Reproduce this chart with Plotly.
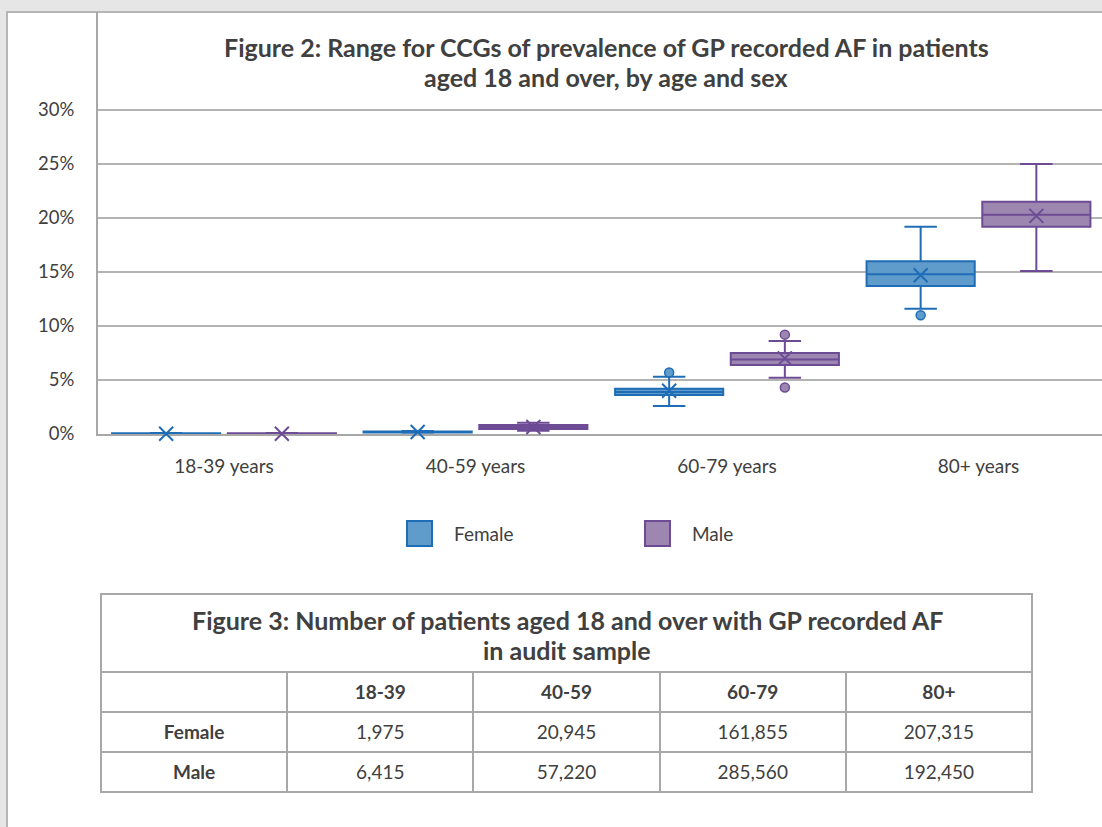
import plotly.graph_objects as go

W, H = 1102, 827
H_EFF = 817  # effective rendered height used to map pixel targets to paper coords

# ---------------- data ----------------
age_groups = ["18-39 years", "40-59 years", "60-79 years", "80+ years"]

# Female box statistics (fractions)
f_lower = [0.0000, 0.0012, 0.026, 0.116]
f_q1 = [0.0000, 0.0015, 0.036, 0.137]
f_median = [0.0003, 0.0019, 0.039, 0.148]
f_q3 = [0.0006, 0.0023, 0.042, 0.160]
f_upper = [0.0010, 0.0028, 0.053, 0.192]
f_mean = [0.0003, 0.0019, 0.040, 0.147]
f_outliers_x = ["60-79 years", "80+ years"]
f_outliers_y = [0.057, 0.110]

# Male box statistics (fractions)
m_lower = [0.0000, 0.0030, 0.052, 0.151]
m_q1 = [0.0000, 0.0046, 0.064, 0.192]
m_median = [0.0003, 0.0065, 0.069, 0.203]
m_q3 = [0.0006, 0.0083, 0.075, 0.215]
m_upper = [0.0010, 0.0105, 0.086, 0.250]
m_mean = [0.0003, 0.0065, 0.070, 0.202]
m_outliers_x = ["60-79 years", "60-79 years"]
m_outliers_y = [0.092, 0.043]

y_ticks = [0, 0.05, 0.10, 0.15, 0.20, 0.25, 0.30]

# Table data
table_cols = ["18-39", "40-59", "60-79", "80+"]
table_rows = ["Female", "Male"]
female_counts = [1975, 20945, 161855, 207315]
male_counts = [6415, 57220, 285560, 192450]

chart_title = ["Figure 2: Range for CCGs of prevalence of GP recorded AF in patients",
               "aged 18 and over, by age and sex"]
table_title = ["Figure 3: Number of patients aged 18 and over with GP recorded AF",
               "in audit sample"]

# ---------------- styling ----------------
FONT = "Lato"
TXT = "#404040"
GRID = "#b3b3b3"
BORDER = "#a8a8a8"
F_FILL, F_LINE = "#5f9bcb", "#1f6db6"
M_FILL, M_LINE = "#9d87b1", "#6d4b95"

def px_x(p):
    return p / W

def px_y(p):
    return 1 - p / H_EFF

idx = {g: i for i, g in enumerate(age_groups)}
OFF = 0.23
BW = 0.43

fig = go.Figure()

def add_series(name, lower, q1, med, q3, upper, mean, ox, oy, sign, fill, line):
    xs = [i + sign * OFF for i in range(len(age_groups))]
    fig.add_trace(go.Box(
        x=xs, q1=q1, median=med, q3=q3, lowerfence=lower, upperfence=upper,
        width=BW, whiskerwidth=0.3, fillcolor=fill,
        line=dict(color=line, width=2), name=name, showlegend=False,
        boxpoints=False, hoverinfo="skip"))
    fig.add_trace(go.Scatter(
        x=xs, y=mean, mode="markers", showlegend=False, hoverinfo="skip",
        cliponaxis=False,
        marker=dict(symbol="x-thin", size=14, line=dict(color=line, width=2))))
    fig.add_trace(go.Scatter(
        x=[idx[g] + sign * OFF for g in ox], y=oy, mode="markers",
        showlegend=False, hoverinfo="skip", cliponaxis=False,
        marker=dict(symbol="circle", size=9, color=fill,
                    line=dict(color=line, width=1.5))))

add_series("Female", f_lower, f_q1, f_median, f_q3, f_upper, f_mean,
           f_outliers_x, f_outliers_y, -1, F_FILL, F_LINE)
add_series("Male", m_lower, m_q1, m_median, m_q3, m_upper, m_mean,
           m_outliers_x, m_outliers_y, 1, M_FILL, M_LINE)

# Table
fig.add_trace(go.Table(
    domain=dict(x=[px_x(101), px_x(1032)], y=[px_y(800), px_y(672)]),
    columnwidth=[1] * 5,
    header=dict(values=["<span> </span>"] + ["<b>%s</b>" % c for c in table_cols],
                height=40, fill_color="white",
                line=dict(color=BORDER, width=2),
                font=dict(family=FONT, size=19, color=TXT), align="center"),
    cells=dict(values=[["<b>%s</b>" % r for r in table_rows]] +
               [["<span>{:,}</span>".format(f), "<span>{:,}</span>".format(m)]
                for f, m in zip(female_counts, male_counts)],
               height=40, fill_color="white",
               line=dict(color=BORDER, width=2),
               font=dict(family=FONT, size=19, color=TXT), align="center"),
))

shapes = [
    # white panel
    dict(type="rect", xref="paper", yref="paper", layer="below",
         x0=px_x(7), x1=px_x(1120), y0=px_y(840), y1=px_y(12),
         fillcolor="white", line=dict(color="#b5b5b5", width=2)),
    # table title box
    dict(type="rect", xref="paper", yref="paper",
         x0=px_x(101), x1=px_x(1032), y0=px_y(672), y1=px_y(594),
         fillcolor="rgba(0,0,0,0)", line=dict(color=BORDER, width=2)),
    # legend squares
    dict(type="rect", xref="paper", yref="paper",
         x0=px_x(407), x1=px_x(432), y0=px_y(546), y1=px_y(521),
         fillcolor=F_FILL, line=dict(color=F_LINE, width=2)),
    dict(type="rect", xref="paper", yref="paper",
         x0=px_x(645), x1=px_x(670), y0=px_y(546), y1=px_y(521),
         fillcolor=M_FILL, line=dict(color=M_LINE, width=2)),
]

annotations = []
for txt, yy in zip(chart_title, [47, 77]):
    annotations.append(dict(
        xref="paper", yref="paper", x=px_x(606), y=px_y(yy),
        text="<b>%s</b>" % txt, showarrow=False,
        font=dict(family=FONT, size=25, color=TXT),
        xanchor="center", yanchor="middle"))
for txt, yy in zip(table_title, [620, 650]):
    annotations.append(dict(
        xref="paper", yref="paper", x=px_x(567), y=px_y(yy),
        text="<b>%s</b>" % txt, showarrow=False,
        font=dict(family=FONT, size=25, color=TXT),
        xanchor="center", yanchor="middle"))
for txt, xx in zip(["Female", "Male"], [452, 690]):
    annotations.append(dict(
        xref="paper", yref="paper", x=px_x(xx), y=px_y(533), text=txt,
        showarrow=False, font=dict(family=FONT, size=19, color=TXT),
        xanchor="left", yanchor="middle"))

# axis ranges: 1 category = 251.5 px, 5 % = 54 px
unit = 251.5
x0 = -(224 - 98) / unit
x1 = x0 + (1102 - 98) / unit
y_max = (434 - 12) * (0.05 / 54)

fig.update_layout(
    width=W, height=H,
    margin=dict(l=0, r=0, t=0, b=0),
    paper_bgcolor="#e6e6e6", plot_bgcolor="white",
    font=dict(family=FONT, size=17, color=TXT),
    shapes=shapes, annotations=annotations,
    xaxis=dict(domain=[px_x(98), 1.0], range=[x0, x1],
               tickvals=list(range(len(age_groups))), ticktext=age_groups,
               showgrid=False, zeroline=False, showline=True,
               linecolor=BORDER, linewidth=2, ticks="", layer="below traces",
               ticklabelstandoff=14,
               tickfont=dict(family=FONT, size=19, color=TXT)),
    yaxis=dict(domain=[px_y(434), px_y(12)], range=[0, y_max],
               tickvals=y_ticks, tickformat=".0%",
               showgrid=True, gridcolor=GRID, gridwidth=2,
               zeroline=False, showline=True, linecolor=BORDER,
               linewidth=2, ticks="", ticklabelstandoff=18,
               layer="below traces",
               tickfont=dict(family=FONT, size=18.5, color=TXT)),
)

fig.write_html("out.html")
